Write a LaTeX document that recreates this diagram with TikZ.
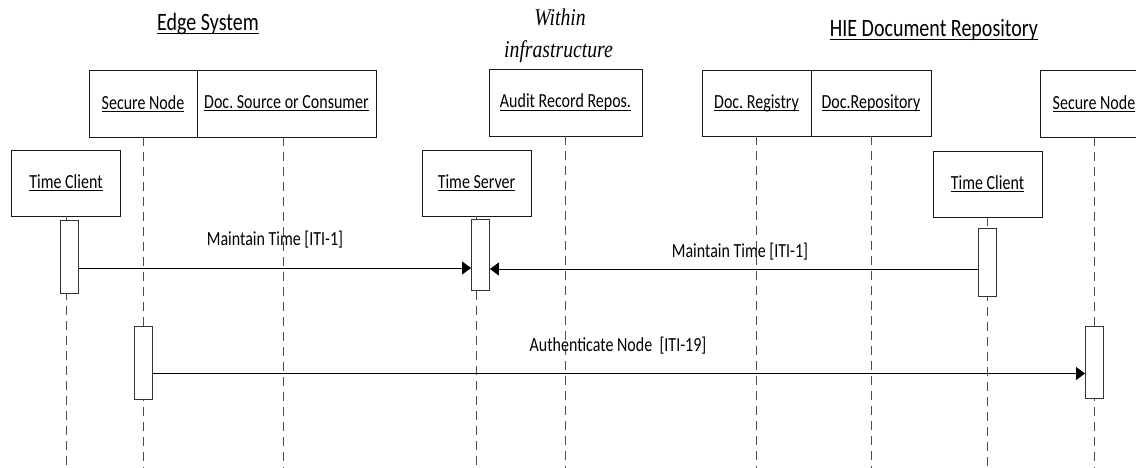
\documentclass[tikz,border=0pt]{standalone}
\usepackage{fontspec}
\setmainfont{Carlito}[FakeStretch=0.8]
\newfontfamily\titleserif{Liberation Serif}[FakeStretch=0.82]
\usetikzlibrary{arrows.meta}
\frenchspacing
\newcommand\ulbox[2][2.7pt]{\setbox0\hbox{#2}\rlap{\copy0}\rule[-#1]{\wd0}{0.9pt}}
\tikzset{
  hdr/.style={draw=black!90, line width=0.9pt, fill=white, inner sep=0pt, minimum height=67pt,
              font=\fontsize{20}{24}\selectfont},
  act/.style={draw=black!80, line width=0.9pt, fill=white, inner sep=0pt, minimum width=18pt},
  life/.style={draw=black!70, line width=0.9pt, dash pattern=on 9pt off 6pt},
  msg/.style={draw=black, line width=0.9pt, -{Triangle[length=9pt,width=13pt]}},
  lbl/.style={inner sep=0pt, font=\fontsize{20}{24}\selectfont},
  ttl/.style={inner sep=0pt, anchor=base, font=\fontsize{25}{30}\selectfont},
  ital/.style={inner sep=0pt, anchor=base, font=\titleserif\itshape\fontsize{24}{32}\selectfont},
}
\begin{document}
\begin{tikzpicture}[x=1pt,y=-1pt]
\useasboundingbox (0,0) rectangle (1136,468);
\coordinate (bot) at (0,468);
% titles
\node[ttl] (t1) at (208,31) {\ulbox[2.5pt]{Edge System}};
\node[ttl] (t3) at (934,37) {\ulbox[2.5pt]{HIE Document Repository}};
\node[ital] (t2a) at (560,26) {Within};
\node[ital] (t2b) at (558.5,58) {infrastructure};
% header boxes
\node[hdr, minimum width=108pt] (sn1) at (143,103.5) {\ulbox{Secure Node}};
\node[hdr, minimum width=179pt] (dsc) at (286.5,103.5) {\ulbox{Doc. Source or Consumer}};
\node[hdr, minimum width=109pt, minimum height=66pt] (tc1) at (66,183) {\ulbox{Time Client}};
\node[hdr, minimum width=109pt, minimum height=66pt] (ts) at (476.5,183) {\ulbox{Time Server}};
\node[hdr, minimum width=153pt] (aud) at (565.5,102.5) {\ulbox{Audit Record Repos.}};
\node[hdr, minimum width=109pt, minimum height=66pt] (reg) at (756.5,103) {\ulbox{Doc. Registry}};
\node[hdr, minimum width=120pt, minimum height=66pt] (rep) at (871,103) {\ulbox{Doc.Repository}};
\node[hdr, minimum width=109pt, minimum height=66pt] (tc2) at (987.5,184) {\ulbox{Time Client}};
\node[hdr, minimum width=108pt] (sn2) at (1094,103.5) {\ulbox{Secure Node}};
% lifelines
\draw[life] (sn1.south) -- (sn1.south |- bot);
\draw[life] ([xshift=-3.5pt]dsc.south) -- ([xshift=-3.5pt]dsc.south |- bot);
\draw[life] (tc1.south) -- (tc1.south |- bot);
\draw[life] (ts.south) -- (ts.south |- bot);
\draw[life] (aud.south) -- (aud.south |- bot);
\draw[life] (reg.south) -- (reg.south |- bot);
\draw[life] (rep.south) -- (rep.south |- bot);
\draw[life] (tc2.south) -- (tc2.south |- bot);
\draw[life] (sn2.south) -- (sn2.south |- bot);
% activations
\node[act, minimum height=73pt] (a1) at (69.5,256.5) {};
\node[act, minimum height=71pt] (a2) at (480.5,255) {};
\node[act, minimum height=68pt] (a3) at (987.5,262) {};
\node[act, minimum height=72.5pt] (a4) at (143,363) {};
\node[act, minimum height=72.5pt] (a5) at (1094.5,362.5) {};
% messages
\draw[msg] (a1.east |- 0,268) -- (a2.west |- 0,268);
\draw[msg] (a3.west |- 0,269) -- (a2.east |- 0,269);
\draw[msg] (a4.east |- 0,373.5) -- (a5.west |- 0,373.5);
\node[lbl] (l1) at (275,240) {Maintain Time [ITI-1]};
\node[lbl] (l2) at (740,252) {Maintain Time [ITI-1]};
\node[lbl] (l3) at (618,346) {Authenticate Node\ \ [ITI-19]};
\end{tikzpicture}
\end{document}
